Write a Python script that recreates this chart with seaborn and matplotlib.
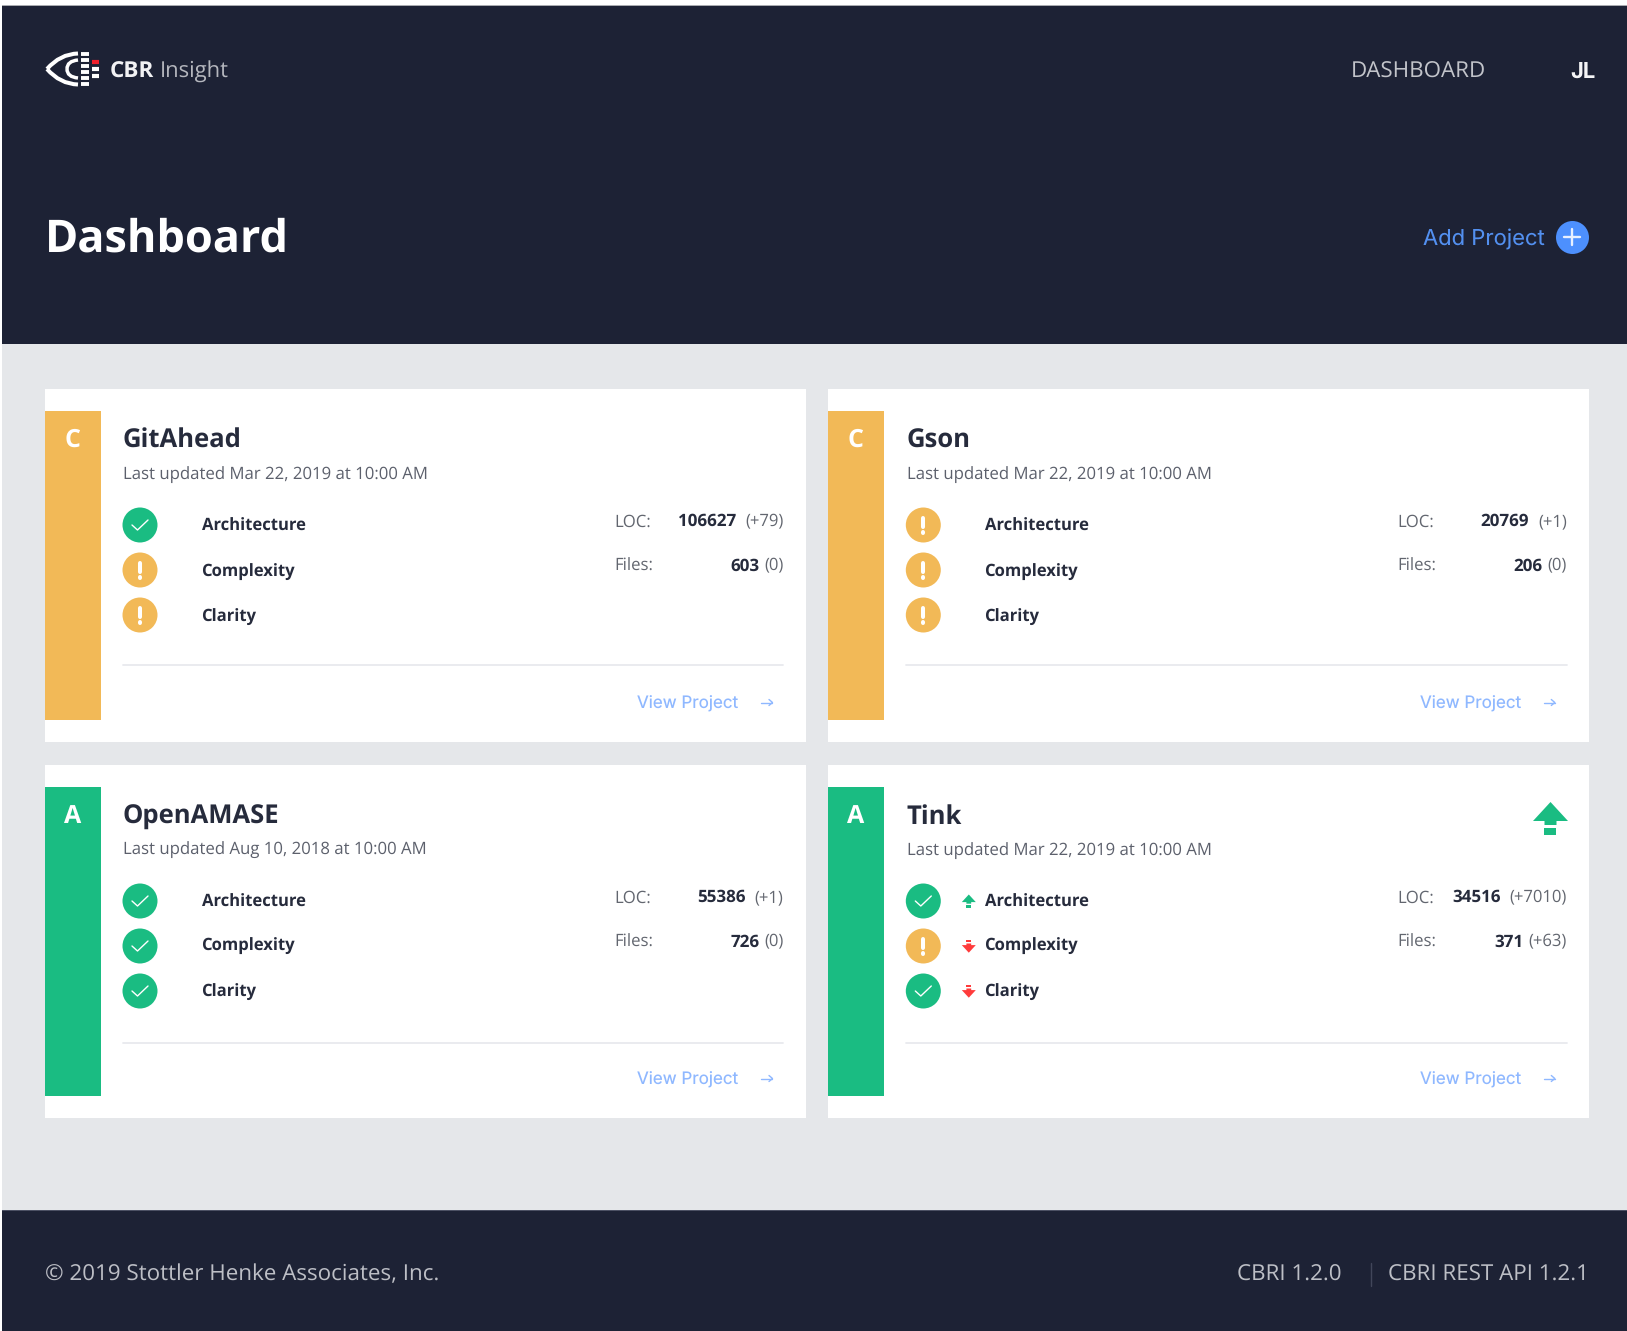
import matplotlib
matplotlib.use("Agg")
import matplotlib.pyplot as plt
from matplotlib.patches import Rectangle, Polygon, PathPatch
from matplotlib.path import Path
import pandas as pd
import seaborn as sns

# ---- data ----
projects = ["GitAhead", "Gson", "OpenAMASE", "Tink"]
grades = ["C", "C", "A", "A"]
updated = ["Mar 22, 2019", "Mar 22, 2019", "Aug 10, 2018", "Mar 22, 2019"]
metrics = ["Architecture", "Complexity", "Clarity"]
architecture_status = ["ok", "warn", "ok", "ok"]
complexity_status = ["warn", "warn", "ok", "warn"]
clarity_status = ["warn", "warn", "ok", "ok"]
tink_trends = ["up", "down", "down"]
loc_values = ["106627", "20769", "55386", "34516"]
loc_deltas = ["(+79)", "(+1)", "(+1)", "(+7010)"]
file_values = ["603", "206", "726", "371"]
file_deltas = ["(0)", "(0)", "(0)", "(+63)"]

NAVY, GRAY, GREEN, ORANGE = "#1D2235", "#E5E7EA", "#1ABC82", "#F2B957"
BLUE, LINK, RED, INK, MUTED = "#4D90FE", "#8FB8FF", "#FF3B3B", "#262B3C", "#5C606C"
grade_colors = {"A": GREEN, "C": ORANGE}
status_colors = {"ok": GREEN, "warn": ORANGE}

sns.set_theme(style="white")
plt.rcParams["font.family"] = ["Open Sans", "DejaVu Sans"]
plt.rcParams["text.hinting"] = "no_hinting"

fig = plt.figure(figsize=(16.27, 13.31), dpi=100, facecolor=GRAY)
ax = fig.add_axes([0, 0, 1, 1])
ax.set_xlim(0, 1627)
ax.set_ylim(1331, 0)

CARD_X = [45.5, 827.8, 45.5, 827.8]
CARD_Y = [389.0, 389.0, 765.0, 765.0]
CONTENT_DX = [0.0, 1.0, 0.0, 1.0]
CARD_W, CARD_H = 761.0, 353.0
ROW_DY = [136, 181, 226]
LABEL_DY = [[142, 187.5, 233], [142, 187.5, 233], [142, 186, 232], [142, 186, 232]]


def rect(x0, y0, x1, y1, color, z=1):
    ax.add_patch(Rectangle((x0, y0), x1 - x0, y1 - y0, fc=color, ec="none", zorder=z))


def txt(x, y, s, px, color, weight="normal", ha="left", family=None, z=6):
    return ax.text(x, y, s, fontsize=px * 0.72, color=color, fontweight=weight,
                   ha=ha, va="baseline", zorder=z,
                   family=family if family else ["Open Sans", "DejaVu Sans"])


def arrow(cx, top, w, color, up=True):
    k = w / 35.0
    pts = [(0, 0), (17.5, 19), (6, 19), (6, 23), (-6, 23), (-6, 19), (-17.5, 19)]
    h = 33
    def m(p):
        y = p[1] if up else h - p[1]
        return (cx + p[0] * k, top + y * k)
    ax.add_patch(Polygon([m(p) for p in pts], closed=True, fc=color, ec="none", zorder=6))
    tail = [(-6, 26), (6, 26), (6, 33), (-6, 33)]
    ax.add_patch(Polygon([m(p) for p in tail], closed=True, fc=color, ec="none", zorder=6))


# page regions
rect(0, 0, 1627, 6, "#FFFFFF", 0.5)
rect(0, 5.2, 1627, 6.2, "#A9ABB0", 0.6)
rect(0, 0, 1.6, 1331, "#FFFFFF", 3)
rect(1.6, 6, 1627, 343.5, NAVY)
rect(1.6, 1210, 1627, 1331, NAVY)
rect(1.6, 1210, 1627, 1211, "#4C5164", 1.5)

# header: logo mark
def curve(pts, lw, color="#FFFFFF"):
    codes = [Path.MOVETO] + [Path.CURVE3] * (len(pts) - 1)
    ax.add_patch(PathPatch(Path(pts, codes), fc="none", ec=color, lw=lw, zorder=6, capstyle="butt"))

curve([(78, 53.5), (60, 54), (47, 69)], 2.9)
curve([(47, 69), (60, 84), (78, 84.5)], 2.9)
curve([(78, 60), (67, 61), (67, 69)], 2.5)
curve([(67, 69), (67, 77), (78, 78)], 2.5)
for yy in (54, 60, 66, 72, 78, 84):
    ax.plot([81, 89], [yy, yy], color="#FFFFFF", lw=2.8, solid_capstyle="butt", zorder=6)
for yy, col in ((62, "#F0202C"), (69, "#FFFFFF"), (76, "#FFFFFF")):
    ax.plot([92, 99], [yy, yy], color=col, lw=3.0, solid_capstyle="butt", zorder=6)

txt(110, 77.5, "CBR", 22.5, "#F2F2F4", "bold")
txt(160, 77.5, "Insight", 22, "#B5B7BE")
txt(1351, 77.5, "DASHBOARD", 22.4, "#C2C4CA")
txt(1570, 77.5, "JL", 22, "#F5F5F7", "bold", family=["Inter", "DejaVu Sans"])
txt(45, 252, "Dashboard", 45, "#FFFFFF", "bold")
txt(1423, 246, "Add Project", 22, "#5390F0", family=["Inter", "DejaVu Sans"])
ax.scatter([1572], [237], s=(33 * 0.72) ** 2, color=BLUE, linewidth=0, zorder=5)
ax.plot([1564, 1580], [237, 237], color="#E8F0FF", lw=1.7, zorder=6)
ax.plot([1572, 1572], [229, 245], color="#E8F0FF", lw=1.7, zorder=6)

# footer
txt(45, 1280, "\u00a9 2019 Stottler Henke Associates, Inc.", 22.35, "#BDBFC6")
txt(1237, 1280.5, "CBRI 1.2.0", 22.35, "#BDBFC6")
txt(1388, 1280.5, "CBRI REST API 1.2.1", 22.4, "#BDBFC6")
ax.plot([1371, 1371], [1263, 1286], color="#41465A", lw=1.0, zorder=6)

# project cards
for i, name in enumerate(projects):
    cx, cy = CARD_X[i], CARD_Y[i]
    dx = CONTENT_DX[i]
    rect(cx, cy, cx + CARD_W, cy + CARD_H, "#FFFFFF", 1)
    rect(cx, cy + 21.5, cx + 56, cy + 330.5, grade_colors[grades[i]], 2)
    txt(cx + 27 + dx * 0.8, cy + 58, grades[i], 25, "#FFFFFF", "bold", ha="center")
    tx = cx + 77.7 + dx
    txt(tx - 1 + dx, cy + 59, name, 25.6, INK, "bold")
    txt(tx + dx, cy + (90 if i < 2 else 90.2), f"Last updated {updated[i]} at 10:00 AM", 16.75, MUTED)
    for j, metric in enumerate(metrics):
        txt(cx + 156.5 + dx - (1 if j else 0), cy + LABEL_DY[i][j], metric, 16.6, INK, "bold")
    rx = cx + 738 + dx
    for row_y, label, val, delta, gap in (
        (cy + 137.3, "LOC:", loc_values[i], loc_deltas[i], 9),
        (cy + 181.7, "Files:", file_values[i], file_deltas[i], 5),
    ):
        txt(cx + 568.5 + dx, row_y, label, 16.8, "#62666F")
        d = txt(rx, row_y, delta, 16.6, "#62666F", ha="right")
        left_px = d.get_window_extent(fig.canvas.get_renderer()).x0
        left = ax.transData.inverted().transform((left_px, 0))[0]
        txt(left - gap, row_y, val, 17, INK, "bold", ha="right")
    rule_y = cy + (276 if i < 2 else 278)
    ax.plot([tx, rx], [rule_y, rule_y], color="#E8E9EE", lw=1.3, zorder=3)
    txt(cx + 591.5 + dx, cy + 320, "View Project", 17, LINK, family=["Inter", "DejaVu Sans"])
    ay = cy + 313.5
    ax.plot([cx + 716, cx + 727], [ay, ay], color=LINK, lw=1.0, zorder=6)
    ax.plot([cx + 723.5, cx + 727, cx + 723.5], [ay - 3, ay, ay + 3], color=LINK, lw=1.0, zorder=6)

# status indicators, drawn through seaborn
rows = []
for i in range(len(projects)):
    stats = (architecture_status[i], complexity_status[i], clarity_status[i])
    for j, st in enumerate(stats):
        rows.append({"x": CARD_X[i] + 94.5 + CONTENT_DX[i], "y": CARD_Y[i] + ROW_DY[j], "status": st})
status_df = pd.DataFrame(rows)
sns.scatterplot(data=status_df, x="x", y="y", hue="status", palette=status_colors,
                s=(35 * 0.72) ** 2, linewidth=0, legend=False, ax=ax, zorder=5)
for _, r in status_df.iterrows():
    x, y = r["x"], r["y"]
    if r["status"] == "ok":
        ax.plot([x - 8, x - 2.5, x + 8], [y, y + 5, y - 5], color="#FFFFFF", lw=1.0, zorder=6)
    else:
        ax.plot([x, x], [y - 7, y + 1.5], color="#FFFFFF", lw=2.9, zorder=6, solid_capstyle="round")
        ax.plot([x, x], [y + 6.5, y + 7.5], color="#FFFFFF", lw=2.9, zorder=6, solid_capstyle="round")

# Tink trend arrows
tink_x, tink_y = CARD_X[3], CARD_Y[3]
arrow(1550.5, 802, 35, GREEN, up=True)
for j, tr in enumerate(tink_trends):
    arrow(tink_x + 141, tink_y + ROW_DY[j] - 6.5, 14, GREEN if tr == "up" else RED, up=tr == "up")

ax.set_xlim(0, 1627)
ax.set_ylim(1331, 0)
ax.set_axis_off()
fig.savefig("out.png", dpi=100, facecolor=GRAY)
